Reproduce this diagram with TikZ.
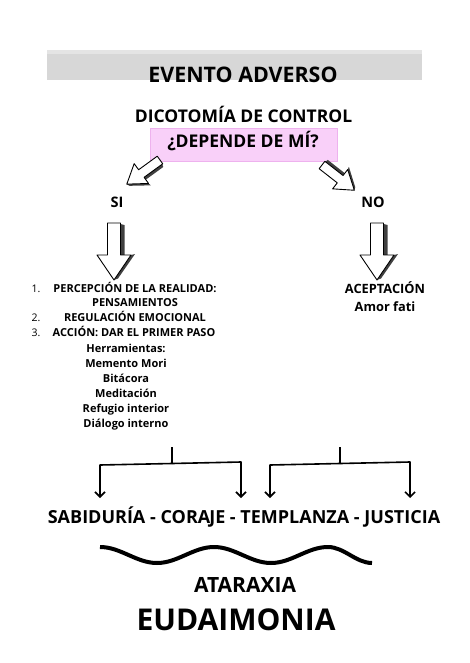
\documentclass[tikz,border=0pt]{standalone}
\usepackage{fontspec}
\setmainfont{Open Sans}
\usetikzlibrary{arrows.meta}

\definecolor{evgray}{RGB}{215, 215, 215}
\definecolor{evgraylight}{RGB}{228, 228, 228}
\definecolor{evpink}{RGB}{249, 208, 249}
\definecolor{evpinkline}{RGB}{238, 178, 238}

% block arrow pointing along +x, tail at the origin
\newcommand{\sketcharrow}{%
  \fill[arrowside] (1,-6.5) -- (32,-6.5) -- (32,-10.5) -- (2,-10.5) -- cycle;
  \fill[arrowside] (32,-17) -- (57,0) -- (55.5,-4) -- (31,-21) -- cycle;
  \draw[arrowface] (0,-6.5) -- (32,-6.5) -- (32,-17) -- (57,0)
    -- (32,17) -- (32,6.5) -- (0,6.5) -- cycle;
}

\begin{document}
\begin{tikzpicture}[
    x=1pt, y=-1pt,
    bigtitle/.style={font=\bfseries\fontsize{21.4}{26}\selectfont},
    heading/.style={font=\bfseries\fontsize{17.5}{21}\selectfont},
    answer/.style={font=\bfseries\fontsize{14.5}{17}\selectfont},
    listline/.style={font=\bfseries\fontsize{11}{13}\selectfont},
    listnum/.style={font=\fontsize{10.5}{13}\selectfont},
    accept/.style={font=\bfseries\fontsize{12.8}{15}\selectfont},
    virtue/.style={font=\bfseries\fontsize{18}{22}\selectfont},
    arrowface/.style={draw=black, fill=white, line width=0.9pt, line join=round},
    arrowside/.style={fill=black!75},
    bracket/.style={line width=1.6pt},
    tip/.style={-{Straight Barb[length=5pt, width=10pt, line width=1.6pt]}},
  ]
    \useasboundingbox (0,0) rectangle (469,663);

    % --- header bar ---
    \fill[evgray] (47,50) rectangle (422,80);
    \fill[evgraylight] (47,50) rectangle (422,54);
    \node[bigtitle, anchor=base] (evento) at (243,83) {EVENTO ADVERSO};

    % --- question ---
    \node[heading, anchor=base] (dicotomia) at (243.5,123) {DICOTOMÍA DE CONTROL};
    \fill[evpink, draw=evpinkline, line width=0.6pt] (150,128) rectangle (337,161);
    \node[heading, anchor=base] (depende) at (243,148) {¿DEPENDE DE MÍ?};

    % --- sketch arrows ---
    \begin{scope}[shift={(160,160)}, rotate=216, scale=0.72]
      \sketcharrow
    \end{scope}
    \begin{scope}[shift={(322,165)}, rotate=-38, scale=0.72]
      \sketcharrow
    \end{scope}
    \begin{scope}[shift={(114,223)}, rotate=-90]
      \sketcharrow
    \end{scope}
    \begin{scope}[shift={(377,223)}, rotate=-90]
      \sketcharrow
    \end{scope}

    \node[answer, anchor=base] (si) at (117,207) {SI};
    \node[answer, anchor=base] (no) at (373,207) {NO};

    % --- left branch: steps and tools ---
    \node[listnum, anchor=base] (n1) at (36,292.5) {1.};
    \node[listnum, anchor=base] (n2) at (36,321.5) {2.};
    \node[listnum, anchor=base] (n3) at (36,336.5) {3.};
    \node[listline, anchor=base] (percep) at (135,292.5) {PERCEPCIÓN DE LA REALIDAD:};
    \node[listline, anchor=base] (pensa) at (135,306.5) {PENSAMIENTOS};
    \node[listline, anchor=base] (regul) at (135,321.5) {REGULACIÓN EMOCIONAL};
    \node[listline, anchor=base] (accion) at (134,336.5) {ACCIÓN: DAR EL PRIMER PASO};
    \foreach \txt [count=\k] in {Herramientas:, Memento Mori, Bitácora,
        Meditación, Refugio interior, Diálogo interno} {
      \node[listline, anchor=base] (tool\k) at (126,337.5+15*\k) {\txt};
    }

    % --- right branch ---
    \node[accept, anchor=base] (acept) at (385,293) {ACEPTACIÓN};
    \node[accept, anchor=base] (amor) at (385,311) {Amor fati};

    % --- brackets down to the virtues ---
    \coordinate (lstub) at (172,447);
    \coordinate (lbar) at (172,463.5);
    \coordinate (lbarw) at (100,465);
    \coordinate (lbare) at (241,462);
    \coordinate (lendw) at (100,498);
    \coordinate (lende) at (241,498);
    \coordinate (rstub) at (340,447);
    \coordinate (rbar) at (340,463.5);
    \coordinate (rbarw) at (270,465);
    \coordinate (rbare) at (410,462);
    \coordinate (rendw) at (270,498);
    \coordinate (rende) at (410,498);
    \draw[bracket] (lstub) -- (lbar);
    \draw[bracket, tip, line join=round] (lbar) -- (lbarw) -- (lendw);
    \draw[bracket, tip, line join=round] (lbar) -- (lbare) -- (lende);
    \draw[bracket] (rstub) -- (rbar);
    \draw[bracket, tip, line join=round] (rbar) -- (rbarw) -- (rendw);
    \draw[bracket, tip, line join=round] (rbar) -- (rbare) -- (rende);

    \node[virtue, anchor=base] (virtudes) at (244,523)
      {SABIDURÍA - CORA\kern-1pt JE - TEMPLANZA - JUSTICIA};

    % --- wave ---
    \draw[line width=4pt] (100,547) cos (128.5,555) sin (157,563) cos (185.5,555)
      sin (214,547) cos (242.5,555) sin (271,563) cos (299.5,555)
      sin (328,547) cos (350,555) sin (372,563);

    % --- outcome ---
    \node[font=\bfseries\fontsize{21}{25}\selectfont, anchor=base] (ataraxia) at (245,592) {ATARAXIA};
    \node[font=\bfseries\fontsize{30}{36}\selectfont, anchor=base] (eudaimonia) at (236,630) {EUDAIMONIA};
  \end{tikzpicture}
\end{document}
